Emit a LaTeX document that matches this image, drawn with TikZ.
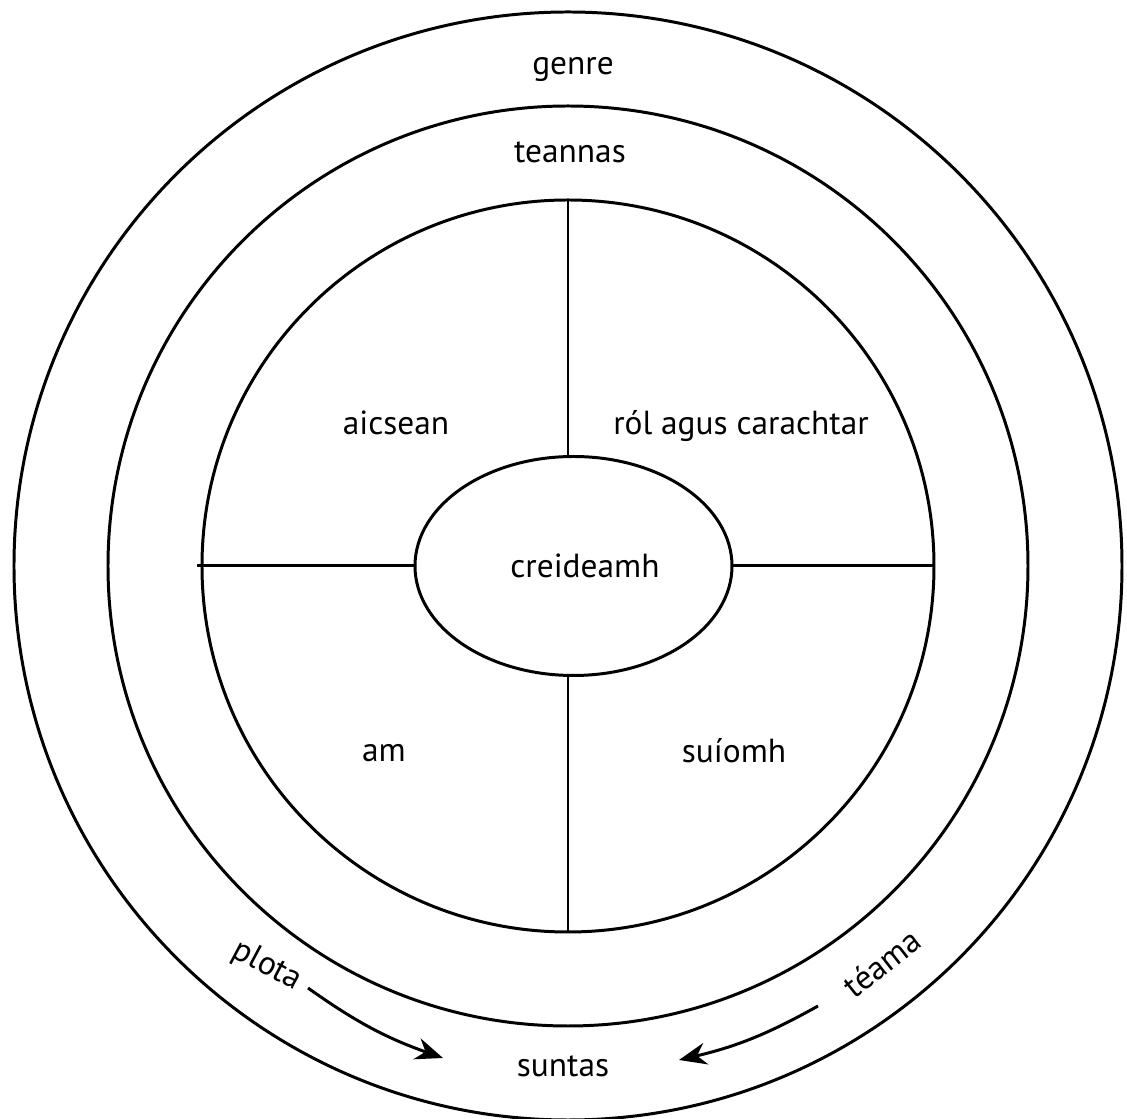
\documentclass[tikz,border=0pt]{standalone}
\usepackage{fontspec}
\setmainfont{PT Sans}
\usetikzlibrary{shapes.geometric,arrows.meta}
\begin{document}
\begin{tikzpicture}[line width=1.7pt,
    lbl/.style={anchor=base,font=\fontsize{19}{22}\selectfont},
    arr/.style={-{Stealth[length=5.5mm,width=4.4mm,inset=1.8mm]}}]
  \useasboundingbox (-11.36,-11.06) rectangle (11.18,11.32);
  \foreach \r in {11.08,9.2,7.32}{
    \draw (0,0) circle(\r);
  }
  \node[draw,ellipse,minimum width=6.34cm,minimum height=4.38cm,inner sep=0] (E) at (0.11,0) {};
  \foreach \a/\r in {90/7.32, 270/7.32, 180/7.42, 0/7.32}{
    \coordinate (C\a) at (\a:\r);
  }
  \draw (C90) -- (C90 |- E.north);
  \draw (C270) -- (C270 |- E.south);
  \draw (C180) -- (E.west);
  \draw (C0) -- (E.east);
  \foreach \n/\x/\y/\t in {genre/0.1/9.82/genre, tension/0.04/8.06/teannas,
      action/-3.44/2.62/aicsean, role/3.46/2.62/ról agus carachtar,
      belief/0.34/-0.24/creideamh, time/-3.68/-3.92/am,
      place/3.32/-3.94/suíomh, point/-0.1/-10.22/suntas}{
    \node[lbl] (\n) at (\x,\y) {\t};
  }
  \node[lbl,anchor=center,rotate=-28] (plot) at (-6.02,-8.0) {plota};
  \node[lbl,anchor=center,rotate=38] (theme) at (6.28,-7.94) {téama};
  \coordinate (P1) at (-5.2,-8.44);
  \coordinate (P2) at (-2.5,-9.84);
  \coordinate (T1) at (5.0,-8.8);
  \coordinate (T2) at (2.22,-9.88);
  \draw[arr] (P1) to[bend right=8] (P2);
  \draw[arr] (T1) to[bend left=8] (T2);
\end{tikzpicture}
\end{document}
